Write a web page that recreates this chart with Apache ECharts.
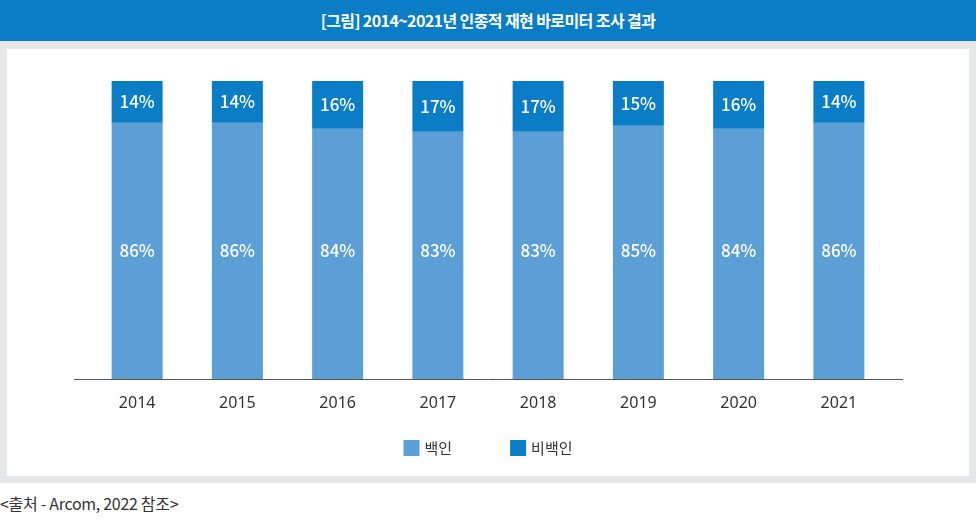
<!DOCTYPE html>
<html>
<head>
<meta charset="utf-8">
<script src="https://cdn.jsdelivr.net/npm/echarts@6/dist/echarts.min.js"></script>
<style>
  html, body { margin: 0; padding: 0; background: #fff; }
  body { width: 976px; height: 524px; position: relative; overflow: hidden;
         font-family: "Noto Sans CJK KR", "Noto Sans", sans-serif; }
  #head { position: absolute; left: 0; top: 0; width: 976px; height: 41px; background: #0a7dc6;
          color: #fff; font-size: 16px; font-weight: bold; line-height: 41px; text-align: center; letter-spacing: -0.6px; }
  #frame { position: absolute; left: 0; top: 41px; width: 976px; height: 442px; background: #e6e7e8; }
  #panel { position: absolute; left: 7px; top: 8px; width: 962px; height: 427px; background: #fff; }
  #src { position: absolute; left: 0; top: 491px; font-size: 16px; color: #333; letter-spacing: -0.3px; }
  #chart { position: absolute; left: 0; top: 0; width: 976px; height: 524px; }
</style>
</head>
<body>
<div id="head">[그림] 2014~2021년 인종적 재현 바로미터 조사 결과</div>
<div id="frame"><div id="panel"></div></div>
<div id="src">&lt;출처 - Arcom, 2022 참조&gt;</div>
<div id="chart"></div>
<script>
// 연도
var years = ['2014', '2015', '2016', '2017', '2018', '2019', '2020', '2021'];
// 백인 비율
var white = [86, 86, 84, 83, 83, 85, 84, 86];
// 비백인 비율
var nonWhite = [14, 14, 16, 17, 17, 15, 16, 14];

var chart = echarts.init(document.getElementById('chart'));
var labelStyle = {
    show: true,
    position: 'inside',
    formatter: '{c}%',
    color: '#fff',
    fontSize: 17,
    fontWeight: 500,
    fontFamily: 'Noto Sans CJK KR'
};
option = {
    backgroundColor: 'transparent',
    animation: false,
    legend: {
        left: 'center',
        top: 435,
        itemWidth: 16,
        itemHeight: 16,
        itemGap: 58,
        icon: 'rect',
        textStyle: { fontSize: 15, color: '#333', fontFamily: 'Noto Sans CJK KR' },
        data: ['백인', '비백인']
    },
    grid: { left: 87, right: 87, top: 81, bottom: 145 },
    xAxis: {
        type: 'category',
        data: years,
        axisLine: { show: false },
        axisTick: { show: false },
        axisLabel: { fontSize: 16, color: '#333', margin: 16, fontFamily: 'Noto Sans' }
    },
    yAxis: {
        type: 'value',
        min: 0,
        max: 100,
        show: false,
        splitLine: { show: false }
    },
    graphic: [{
        type: 'line',
        shape: { x1: 74, y1: 379.5, x2: 903, y2: 379.5 },
        style: { stroke: '#555', lineWidth: 1 }
    }],
    series: [
        {
            name: '백인',
            type: 'bar',
            stack: 'total',
            barWidth: 51,
            itemStyle: { color: '#5b9fd6' },
            label: Object.assign({}, labelStyle, { position: 'insideBottom', distance: 120 }),
            data: white
        },
        {
            name: '비백인',
            type: 'bar',
            stack: 'total',
            barWidth: 51,
            itemStyle: { color: '#0a7dc6' },
            label: labelStyle,
            data: nonWhite
        }
    ]
};
chart.setOption(option);
</script>
</body>
</html>
